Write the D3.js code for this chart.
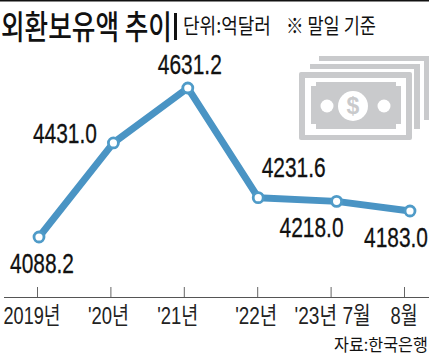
<!DOCTYPE html>
<html>
<head>
<meta charset="utf-8">
<script src="https://cdn.jsdelivr.net/npm/d3@7"></script>
<style>
body { margin: 0; background: #fff; }
svg { display: block; }
text { fill: #111; }
.num { font-family: "Liberation Sans", sans-serif; font-size: 28px; stroke: #111; stroke-width: 0.3px; }
.kr { font-family: "Noto Sans CJK KR", sans-serif; }
.tick-label { font-family: "Liberation Sans", "Noto Sans CJK KR", sans-serif; font-size: 24px; fill: #222; }
</style>
</head>
<body>
<svg width="429" height="355"></svg>
<script>
const categories = ["2019년", "'20년", "'21년", "'22년", "'23년 7월", "8월"];
const reserves = [4088.2, 4431.0, 4631.2, 4231.6, 4218.0, 4183.0];
const valueLabels = ["4088.2", "4431.0", "4631.2", "4231.6", "4218.0", "4183.0"];

const svg = d3.select("svg");

// squeeze a text to a width, the reference uses a condensed face
function fit(sel, x, y, w) {
    const len = sel.node().getComputedTextLength();
    sel.attr("transform", "translate(" + x + "," + y + ") scale(" + (w / len) + ",1)");
    return sel;
}

svg.append("line").attr("x1", 0).attr("x2", 429).attr("y1", 0.5).attr("y2", 0.5)
    .attr("stroke", "#111").attr("stroke-width", 2);

// title row
fit(svg.append("text").attr("class", "kr").style("font-size", "33px").style("font-weight", 500)
    .text("외환보유액 추이"), 1, 38.5, 171);
svg.append("rect").attr("x", 174).attr("y", 13).attr("width", 3).attr("height", 27).attr("fill", "#111");
fit(svg.append("text").attr("class", "kr").style("font-size", "21px").text("단위:억달러"), 183, 33, 88);
fit(svg.append("text").attr("class", "kr").style("font-size", "21px").text("※ 말일 기준"), 286, 33, 90);

// money icon
const icon = svg.append("g").attr("fill", "#c9cacc");
icon.append("path").attr("d", "M319 56H429V120H424V61H319Z");
icon.append("path").attr("d", "M310 64H420V129H414V69H310Z");
icon.append("rect").attr("x", 299).attr("y", 72).attr("width", 113).attr("height", 68).attr("rx", 2);
icon.append("path").attr("fill", "#fff").attr("d", "M305 78H406V135H305Z");
icon.append("path").attr("d", "M316 82H396V86H401V124H396V129H316V124H311V86H316Z");
icon.append("circle").attr("cx", 353).attr("cy", 106).attr("r", 15).attr("fill", "#fff");
icon.append("circle").attr("cx", 327).attr("cy", 106).attr("r", 6.5).attr("fill", "#fff");
icon.append("circle").attr("cx", 384).attr("cy", 106).attr("r", 6.5).attr("fill", "#fff");
icon.append("text").attr("x", 353).attr("y", 114).attr("text-anchor", "middle")
    .style("font-family", "Liberation Sans").style("font-size", "23px").style("font-weight", 700)
    .style("fill", "#c9cacc").text("$");

// scales
const xScale = d3.scalePoint().domain(categories).range([37, 404]);
const yScale = d3.scaleLinear().domain([4000, 4700]).range([261.2, 69.1]);

// axis
const xAxis = d3.axisBottom(xScale).tickSize(-10).tickFormat("");
const xAxisG = svg.append("g").attr("transform", "translate(0,297)").call(xAxis);
xAxisG.select(".domain").attr("d", "M4,0.5H429").attr("stroke", "#555").attr("stroke-width", 1);
xAxisG.selectAll(".tick line").attr("stroke", "#666");

const tickDx = [-5, -2, -6, -1, 2, 0];
const tickWidth = [57, 41, 41, 42, 76, 27];
svg.selectAll("text.tick-label").data(categories).enter().append("text")
    .attr("class", "tick-label")
    .text(d => d)
    .each(function (d, i) {
        fit(d3.select(this), xScale(d) + tickDx[i] - tickWidth[i] / 2, 324, tickWidth[i]);
    });

fit(svg.append("text").attr("class", "kr").style("font-size", "17px").text("자료:한국은행"), 334, 350.5, 94);

// points sit a little right of their ticks in the original
const pointDx = [2, 3, 4, 1, 6, 6];
const px = i => xScale(categories[i]) + pointDx[i];

const line = d3.line().x((d, i) => px(i)).y(d => yScale(d));
svg.append("path").datum(reserves).attr("d", line).attr("fill", "none")
    .attr("stroke", "#4a94c4").attr("stroke-width", 7).attr("stroke-linejoin", "round");

svg.selectAll("circle.point").data(reserves).enter().append("circle")
    .attr("class", "point").attr("r", 5)
    .attr("cx", (d, i) => px(i)).attr("cy", d => yScale(d))
    .attr("fill", "#fff").attr("stroke", "#4f9bc8").attr("stroke-width", 2.8);

// value labels, offsets from each point
const labelDx = [3, -48.5, 2, 35.5, -25, -14];
const labelDy = [36, 0, -14, -20.5, 35.6, 36];
svg.selectAll("text.num").data(reserves).enter().append("text")
    .attr("class", "num")
    .text((d, i) => valueLabels[i])
    .each(function (d, i) {
        fit(d3.select(this), px(i) + labelDx[i] - 32, yScale(d) + labelDy[i], 64);
    });
</script>
</body>
</html>
